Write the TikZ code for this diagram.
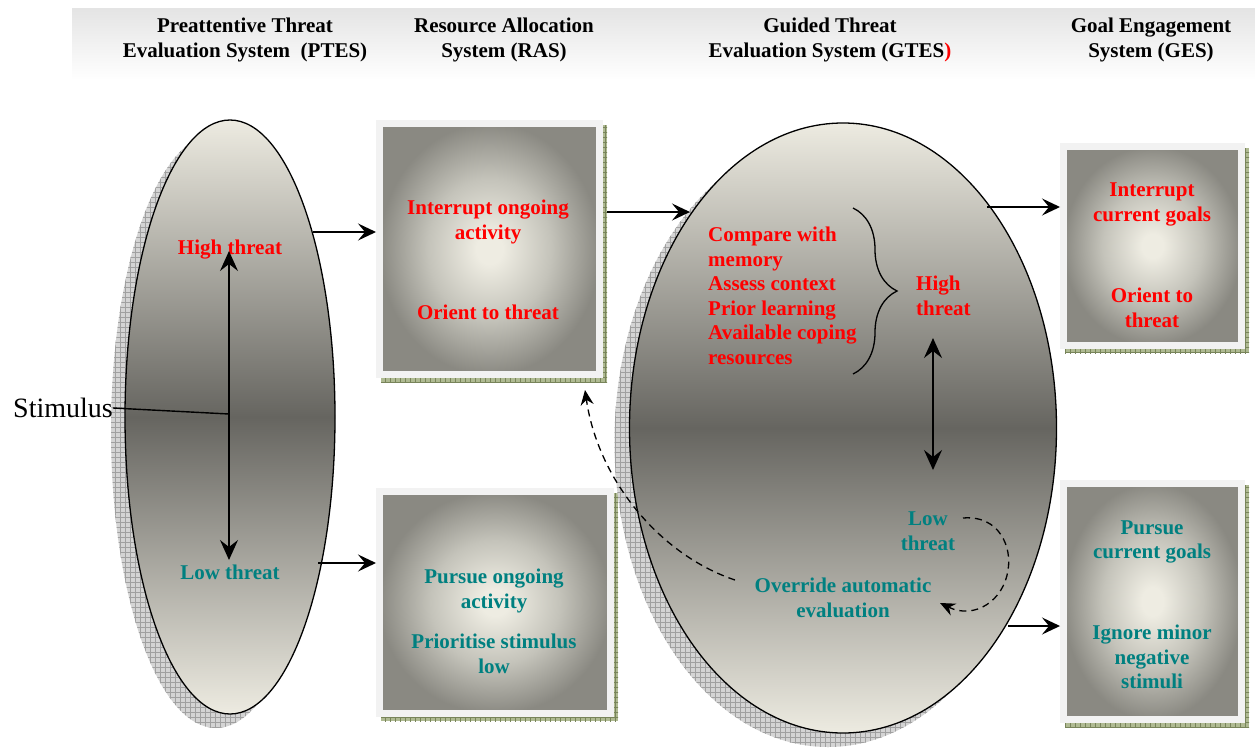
\documentclass[tikz,border=0pt]{standalone}
\usepackage{fontspec}
\setmainfont{Liberation Serif}
\usetikzlibrary{arrows.meta,shapes.geometric,patterns,decorations.pathreplacing,backgrounds,calc}
\definecolor{elight}{RGB}{237,235,225}
\definecolor{edark}{RGB}{102,101,96}
\definecolor{boxlight}{RGB}{238,236,226}
\definecolor{boxmid}{RGB}{196,195,186}
\definecolor{boxdark}{RGB}{138,137,130}
\definecolor{framec}{RGB}{242,242,242}
\definecolor{boxsh}{RGB}{175,186,146}
\definecolor{boxshl}{RGB}{120,132,90}
\definecolor{shgray}{RGB}{212,212,212}
\definecolor{shline}{RGB}{160,160,160}
\definecolor{hdrc}{RGB}{228,228,228}
\definecolor{tealc}{RGB}{0,128,128}
\pgfdeclareradialshading{boxshade}{\pgfpoint{0bp}{0bp}}{color(0bp)=(boxlight); color(3bp)=(boxlight); color(14bp)=(boxmid); color(25bp)=(boxdark); color(50bp)=(boxdark)}
\pgfdeclarepatternformonly{biggrid}{\pgfqpoint{-1pt}{-1pt}}{\pgfqpoint{6pt}{6pt}}{\pgfqpoint{5pt}{5pt}}{%
  \pgfsetlinewidth{0.6pt}%
  \pgfpathmoveto{\pgfqpoint{0pt}{-0.5pt}}\pgfpathlineto{\pgfqpoint{0pt}{5.5pt}}%
  \pgfpathmoveto{\pgfqpoint{-0.5pt}{0pt}}\pgfpathlineto{\pgfqpoint{5.5pt}{0pt}}%
  \pgfusepath{stroke}}
\newcommand\tf{\fontsize{21}{24.5}\selectfont\bfseries}
\begin{document}
\begin{tikzpicture}[x=1pt,y=-1pt,
  txt/.style={font=\tf, align=center, inner sep=0pt},
  hot/.style={txt, text=red},
  cool/.style={txt, text=tealc},
  ell/.style={ellipse, draw=black, line width=1.3pt, top color=elight, bottom color=elight, middle color=edark, inner sep=0pt},
  shadowell/.style={ellipse, draw=none, fill=shgray, postaction={pattern=biggrid, pattern color=shline}, inner sep=0pt},
  gbox/.style={rectangle, draw=framec, line width=7pt, shade, shading=boxshade, inner sep=0pt, outer sep=3.5pt},
  arr/.style={-{Stealth[length=18pt,width=17pt,inset=7pt]}, line width=1.6pt},
  dbl/.style={{Stealth[length=20pt,width=18pt,inset=7pt]}-{Stealth[length=20pt,width=18pt,inset=7pt]}, line width=1.6pt},
  dsh/.style={dash pattern=on 7pt off 5pt, line width=1.3pt, -{Stealth[length=15pt,width=13pt,inset=5pt]}}
]
\begin{scope}[on background layer]
\fill[white] (0,0) rectangle (1255,747);
\end{scope}
\useasboundingbox (0,0) rectangle (1255,747);
% header band
\shade[top color=hdrc, bottom color=white] (72,8) rectangle (1255,80);
\node[txt] (h1) at (245,40) {Preattentive Threat\\Evaluation System\ \ (PTES)};
\node[txt] (h2) at (504,40) {Resource Allocation\\System (RAS)};
\node[txt] (h3) at (830,40) {Guided Threat\\Evaluation System (GTES\textcolor{red}{)}};
\node[txt] (h4) at (1151,40) {Goal Engagement\\System (GES)};

% ellipses
\node[shadowell, minimum width=210pt, minimum height=594pt] (ptesSh) at (216,431) {};
\node[ell, minimum width=210pt, minimum height=594pt] (ptes) at (230,417) {};
\node[shadowell, minimum width=427pt, minimum height=610pt] (gtesSh) at (828,442) {};
\node[ell, minimum width=427pt, minimum height=610pt] (gtes) at (843,428) {};

% boxes
\node[gbox, minimum width=220pt, minimum height=251pt] (rasT) at (489.5,249) {};
\node[gbox, minimum width=231pt, minimum height=222pt] (rasB) at (495,602.5) {};
\node[gbox, minimum width=178pt, minimum height=199pt] (gesT) at (1152.5,246) {};
\node[gbox, minimum width=178pt, minimum height=236pt] (gesB) at (1152.5,601.5) {};
\begin{scope}[on background layer]
\foreach \b in {rasT,rasB,gesT,gesB}{
  \fill[boxsh, postaction={pattern=biggrid, pattern color=boxshl}] ($(\b.north west)+(5,5)$) rectangle ($(\b.south east)+(4,4)$);
}
\end{scope}

% PTES content
\node[font=\fontsize{28}{31}\selectfont, anchor=east, inner sep=0pt] (stim) at (113,408) {Stimulus};
\node[hot] (hiP) at (230,250) {High threat};
\node[cool] (loP) at (230,572) {Low threat};
\coordinate (jn) at (229,414);
\coordinate (pu) at (229,251);
\coordinate (pd) at (229,560);
\draw[line width=1.4pt] (stim.east) -- (jn);
\draw[dbl] (pu) -- (pd);

% RAS content
\node[hot] (r1) at (488,222) {Interrupt ongoing\\activity};
\node[hot] (r2) at (488,312) {Orient to threat};
\node[cool] (r3) at (494,591) {Pursue ongoing\\activity};
\node[cool] (r4) at (494,654) {Prioritise stimulus\\low};

% GTES content
\node[hot, align=left, anchor=west] (cmp) at (708,296) {Compare with\\memory\\Assess context\\Prior learning\\Available coping\\resources};
\node[hot, align=left, anchor=west] (hiG) at (916,296) {High\\threat};
\node[cool] (loG) at (928,531) {Low\\threat};
\node[cool] (ovr) at (843,598) {Override automatic\\evaluation};
\coordinate (bt) at (853,208);
\coordinate (bb) at (853,374);
\draw[line width=1.3pt, decorate, decoration={brace, amplitude=44pt}] (bt) -- (bb);
\coordinate (gu2) at (933,338);
\coordinate (gd2) at (933,470);
\draw[dbl] (gu2) -- (gd2);

% GES content
\node[hot] (g1) at (1152,204.5) {Interrupt\\current goals};
\node[hot] (g2) at (1152,308) {Orient to\\threat};
\node[cool] (g3) at (1152,542) {Pursue\\current goals};
\node[cool] (g4) at (1152,657) {Ignore minor\\negative\\stimuli};

% connectors
\coordinate (pa) at (313,232);
\draw[arr] (pa) -- (pa -| rasT.west);
\coordinate (pb) at (318,563);
\draw[arr] (pb) -- (pb -| rasB.west);
\coordinate (ra) at (607,212);
\coordinate (ga) at (690,212);
\draw[arr] (ra) -- (ga);
\coordinate (gu) at (987,207);
\draw[arr] (gu) -- (gu -| gesT.west);
\coordinate (gl) at (1008,626);
\draw[arr] (gl) -- (gl -| gesB.west);

% dashed
\coordinate (lw) at (963,518);
\coordinate (oe) at (940,603);
\draw[dsh] (lw) .. controls (1000,515) and (1012,548) .. (1008,570) .. controls (1004,600) and (975,620) .. (oe);
\coordinate (ow) at (735,580);
\coordinate (rt) at (585,390);
\draw[dsh] (ow) .. controls (660,555) and (598,480) .. (rt);
\end{tikzpicture}
\end{document}
